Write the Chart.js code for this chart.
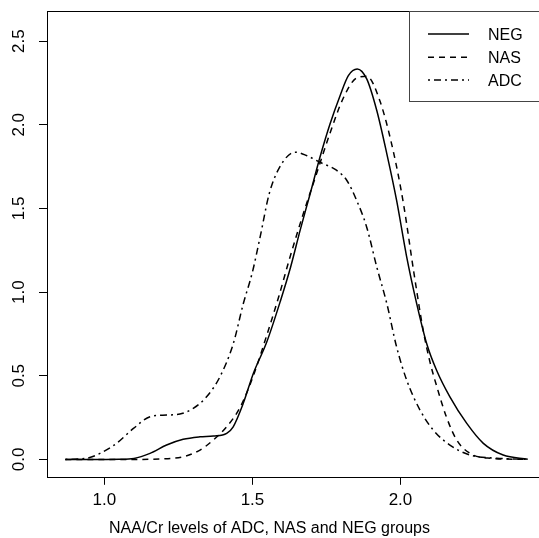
<!DOCTYPE html>
<html>
<head>
<meta charset="utf-8">
<script src="https://cdn.jsdelivr.net/npm/chart.js@4/dist/chart.umd.min.js"></script>
<style>
  html, body { margin: 0; padding: 0; background: #fff; overflow: hidden; }
  #wrap { width: 539px; height: 538px; }
</style>
</head>
<body>
<div id="wrap"><canvas id="densityChart" width="539" height="538"></canvas></div>
<script>
// density curves (x = NAA/Cr, y = density)
const negX = [0.868, 0.95, 1.05, 1.10, 1.154, 1.21, 1.266, 1.323, 1.368, 1.413, 1.435, 1.469, 1.503, 1.548, 1.595, 1.629, 1.661, 1.695, 1.728, 1.762, 1.796, 1.824, 1.854, 1.886, 1.92, 1.954, 1.987, 2.02, 2.055, 2.089, 2.122, 2.167, 2.224, 2.28, 2.347, 2.43];
const negY = [0, 0, 0.001, 0.006, 0.036, 0.086, 0.12, 0.135, 0.14, 0.156, 0.195, 0.335, 0.514, 0.70, 0.95, 1.15, 1.369, 1.588, 1.806, 2.005, 2.174, 2.294, 2.334, 2.274, 2.085, 1.826, 1.548, 1.22, 0.93, 0.69, 0.533, 0.374, 0.215, 0.096, 0.026, 0.001];

const nasX = [0.868, 1.0, 1.10, 1.21, 1.266, 1.323, 1.368, 1.413, 1.458, 1.503, 1.548, 1.59, 1.627, 1.672, 1.717, 1.762, 1.807, 1.852, 1.886, 1.931, 1.976, 2.01, 2.045, 2.077, 2.10, 2.122, 2.156, 2.19, 2.235, 2.303, 2.43];
const nasY = [0, 0, 0, 0.004, 0.016, 0.056, 0.116, 0.195, 0.31, 0.50, 0.74, 0.98, 1.21, 1.47, 1.71, 1.95, 2.16, 2.28, 2.29, 2.14, 1.84, 1.53, 1.12, 0.77, 0.58, 0.44, 0.25, 0.116, 0.036, 0.007, 0];

const adcX = [0.868, 0.94, 0.985, 1.041, 1.098, 1.154, 1.21, 1.255, 1.30, 1.345, 1.39, 1.435, 1.469, 1.50, 1.526, 1.557, 1.593, 1.644, 1.683, 1.728, 1.785, 1.819, 1.852, 1.886, 1.92, 1.954, 1.987, 2.021, 2.066, 2.111, 2.167, 2.235, 2.325, 2.43];
const adcY = [0, 0.007, 0.036, 0.096, 0.185, 0.255, 0.265, 0.271, 0.305, 0.374, 0.493, 0.69, 0.93, 1.12, 1.33, 1.59, 1.75, 1.836, 1.816, 1.776, 1.727, 1.667, 1.548, 1.388, 1.15, 0.931, 0.672, 0.474, 0.295, 0.175, 0.086, 0.026, 0.007, 0];

const groupNames = ['NEG', 'NAS', 'ADC'];
const xTicks = [1.0, 1.5, 2.0];
const yTicks = [0, 0.5, 1.0, 1.5, 2.0, 2.5];
const xLabel = 'NAA/Cr levels of ADC, NAS and NEG groups';

const FONT = 'Liberation Sans, Arial, Helvetica, sans-serif';

function toPoints(xs, ys) {
  return xs.map((x, i) => ({ x: x, y: ys[i] }));
}

// fixed axis sizes so the plot region sits where R put it
function fixSize(s, w, h) {
  if (w != null) s.width = w;
  if (h != null) s.height = h;
  s.paddingTop = 0;
  s.paddingBottom = 0;
  s.paddingLeft = 0;
  s.paddingRight = 0;
}

// R style frame round the plot region (right side falls off the canvas)
const boxPlugin = {
  id: 'rBox',
  afterDraw(chart) {
    const { ctx, chartArea: a } = chart;
    ctx.save();
    ctx.strokeStyle = '#000';
    ctx.lineWidth = 1;
    ctx.strokeRect(Math.round(a.left) + 0.5, Math.round(a.top) + 0.5, a.right - a.left + 30, Math.round(a.bottom - a.top));
    ctx.restore();
  }
};

// legend box in the top right corner, line styles taken from the datasets
const legendPlugin = {
  id: 'rLegend',
  afterDraw(chart) {
    const { ctx, chartArea: a } = chart;
    const left = 409.5, top = Math.round(a.top) + 0.5, bottom = 101.5;
    ctx.save();
    ctx.strokeStyle = '#444';
    ctx.lineWidth = 1;
    ctx.strokeRect(left, top, 200, bottom - top);
    const rows = [34, 57.3, 80];
    chart.data.datasets.forEach((ds, i) => {
      ctx.strokeStyle = ds.borderColor;
      ctx.lineWidth = ds.borderWidth;
      ctx.setLineDash(ds.borderDash || []);
      ctx.beginPath();
      ctx.moveTo(428, rows[i]);
      ctx.lineTo(469, rows[i]);
      ctx.stroke();
      ctx.setLineDash([]);
      ctx.fillStyle = '#000';
      ctx.font = '16px ' + FONT;
      ctx.textBaseline = 'alphabetic';
      ctx.textAlign = 'left';
      ctx.fillText(ds.label, 488, rows[i] + 6);
    });
    ctx.restore();
  }
};

const data = {
  datasets: [
    { label: groupNames[0], data: toPoints(negX, negY), borderColor: '#000', borderWidth: 1.5, borderDash: [] },
    { label: groupNames[1], data: toPoints(nasX, nasY), borderColor: '#000', borderWidth: 1.5, borderDash: [6, 5] },
    { label: groupNames[2], data: toPoints(adcX, adcY), borderColor: '#000', borderWidth: 1.5, borderDash: [2, 4, 7, 4] }
  ]
};

const config = {
  type: 'line',
  data,
  options: {
    responsive: false,
    animation: false,
    devicePixelRatio: 1,
    layout: { padding: { top: 11, left: 0, right: 0, bottom: 0 } },
    elements: {
      point: { radius: 0 },
      line: { fill: false, cubicInterpolationMode: 'monotone' }
    },
    plugins: {
      legend: { display: false },
      tooltip: { enabled: false },
      title: {
        display: true,
        position: 'bottom',
        text: xLabel,
        color: '#000',
        font: { family: FONT, size: 16, weight: 'normal' },
        padding: { top: 1, bottom: 0 }
      }
    },
    scales: {
      x: {
        type: 'linear',
        min: 0.806,
        max: 2.468,
        afterBuildTicks: s => { s.ticks = xTicks.map(v => ({ value: v })); },
        afterFit: s => fixSize(s, null, 41),
        grid: { display: true, drawOnChartArea: false, drawTicks: true, tickLength: 8, color: '#000' },
        border: { display: false },
        ticks: {
          autoSkip: false,
          maxRotation: 0,
          padding: 5,
          color: '#000',
          font: { family: FONT, size: 17 },
          callback: v => v.toFixed(1)
        }
      },
      y: {
        type: 'linear',
        min: -0.104,
        max: 2.68,
        afterBuildTicks: s => { s.ticks = yTicks.map(v => ({ value: v })); },
        afterFit: s => fixSize(s, 47, null),
        grid: { display: true, drawOnChartArea: false, drawTicks: true, tickLength: 8, color: '#000' },
        border: { display: false },
        ticks: {
          autoSkip: false,
          minRotation: 90,
          maxRotation: 90,
          crossAlign: 'center',
          padding: 8,
          color: '#000',
          font: { family: FONT, size: 17 },
          callback: v => v.toFixed(1)
        }
      }
    }
  },
  plugins: [boxPlugin, legendPlugin]
};

const densityChart = new Chart(document.getElementById('densityChart'), config);
</script>
</body>
</html>
